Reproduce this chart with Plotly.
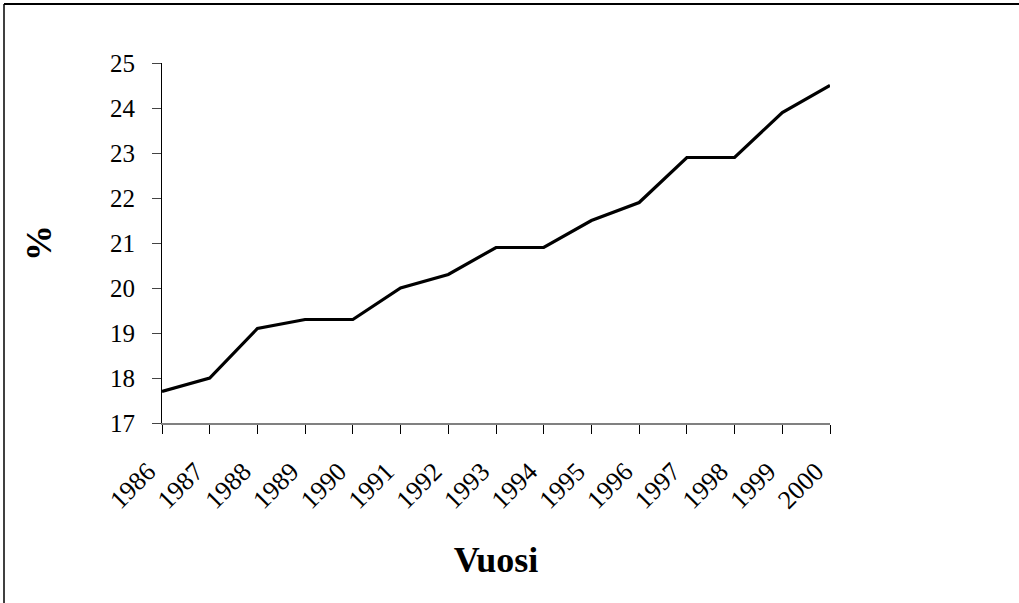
import plotly.graph_objects as go

years = [1986, 1987, 1988, 1989, 1990, 1991, 1992, 1993, 1994, 1995, 1996, 1997, 1998, 1999, 2000]
values = [17.7, 18.0, 19.1, 19.3, 19.3, 20.0, 20.3, 20.9, 20.9, 21.5, 21.9, 22.9, 22.9, 23.9, 24.5]
year_labels = [str(y) for y in years]
y_ticks = [17, 18, 19, 20, 21, 22, 23, 24, 25]

W, H = 1019, 603
L, T = 162, 63
pw, ph = 668, 360
R, B = W - L - pw, H - T - ph

fig = go.Figure()
fig.add_trace(go.Scatter(x=years, y=values, mode="lines",
                         line=dict(color="black", width=3.2), showlegend=False))

font_family = "Liberation Serif, Times New Roman, serif"

fig.update_layout(
    width=W, height=H,
    margin=dict(l=L, r=R, t=T, b=B, pad=0),
    paper_bgcolor="white", plot_bgcolor="white",
    font=dict(family=font_family, color="black", size=25),
    xaxis=dict(
        range=[1986, 2000], tickmode="array", tickvals=years, ticktext=year_labels,
        tickangle=-45, showgrid=False, zeroline=False,
        showline=True, linecolor="#808080", linewidth=2,
        ticks="outside", ticklen=9, tickcolor="black", tickwidth=1,
        tickfont=dict(size=26, family=font_family),
        ticklabelshift=-14, ticklabelstandoff=12,
        title=dict(text="<b>Vuosi</b>", font=dict(size=36, family=font_family), standoff=33),
    ),
    yaxis=dict(
        range=[17, 25], tickmode="array", tickvals=y_ticks,
        showgrid=False, zeroline=False,
        showline=True, linecolor="black", linewidth=1,
        ticks="outside", ticklen=9, tickcolor="#444", tickwidth=1,
        tickfont=dict(size=25, family=font_family),
        ticklabelstandoff=12,
        title=dict(text="<b>%</b>", font=dict(size=36, family=font_family), standoff=47),
    ),
)

# outer frame (top and left edges visible)
x0 = (4 - L) / pw
x1 = (W - L) / pw
ytop = (T + ph - 4) / ph
ybot = (T + ph - H) / ph
fig.add_shape(type="line", xref="paper", yref="paper", x0=x0, x1=x1, y0=ytop, y1=ytop,
              line=dict(color="black", width=2))
fig.add_shape(type="line", xref="paper", yref="paper", x0=x0, x1=x0, y0=ytop, y1=ybot,
              line=dict(color="black", width=1.5))

fig.write_html(
    "out.html",
    config={"displayModeBar": False},
    post_script="document.body.style.margin='0';document.body.style.overflow='hidden';",
)
